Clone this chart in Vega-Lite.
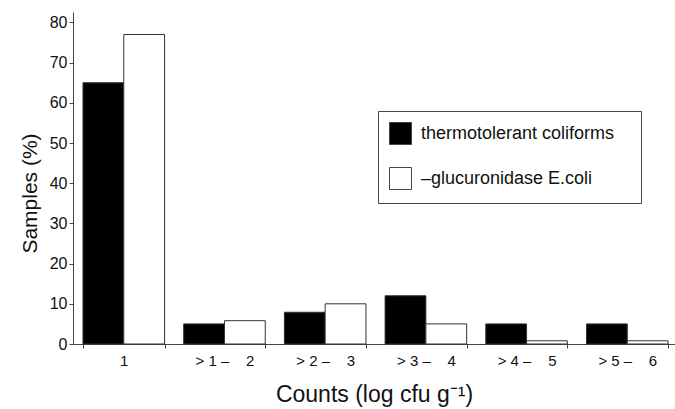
{
  "$schema": "https://vega.github.io/schema/vega-lite/v6.json",
  "width": 602,
  "height": 332,
  "autosize": {"type": "none"},
  "padding": {"left": 73, "top": 12, "right": 0, "bottom": 65},
  "background": "white",
  "config": {
    "font": "Liberation Sans",
    "view": {"stroke": null},
    "axis": {"domainColor": "#444", "tickColor": "#444", "labelColor": "#111", "titleColor": "#111", "labelFont": "Liberation Sans", "titleFont": "Liberation Sans", "titleFontWeight": "normal", "grid": false}
  },
  "data": {
    "values": [
      {"count": "1", "series": "thermo", "samples": 65},
      {"count": "1", "series": "gluc", "samples": 77},
      {"count": "> 1 –\u00a0\u00a0\u00a0\u00a02", "series": "thermo", "samples": 5},
      {"count": "> 1 –\u00a0\u00a0\u00a0\u00a02", "series": "gluc", "samples": 5.8},
      {"count": "> 2 –\u00a0\u00a0\u00a0\u00a03", "series": "thermo", "samples": 7.9},
      {"count": "> 2 –\u00a0\u00a0\u00a0\u00a03", "series": "gluc", "samples": 10},
      {"count": "> 3 –\u00a0\u00a0\u00a0\u00a04", "series": "thermo", "samples": 12},
      {"count": "> 3 –\u00a0\u00a0\u00a0\u00a04", "series": "gluc", "samples": 5},
      {"count": "> 4 –\u00a0\u00a0\u00a0\u00a05", "series": "thermo", "samples": 5},
      {"count": "> 4 –\u00a0\u00a0\u00a0\u00a05", "series": "gluc", "samples": 0.8},
      {"count": "> 5 –\u00a0\u00a0\u00a0\u00a06", "series": "thermo", "samples": 5},
      {"count": "> 5 –\u00a0\u00a0\u00a0\u00a06", "series": "gluc", "samples": 0.8}
    ]
  },
  "mark": {"type": "bar", "stroke": "#333", "strokeWidth": 1},
  "encoding": {
    "x": {
      "field": "count",
      "type": "nominal",
      "sort": null,
      "scale": {"paddingInner": 0.19, "paddingOuter": 0.084, "align": 0.59},
      "axis": {
        "title": "Counts (log cfu g⁻¹)",
        "titleFontSize": 23,
        "titlePadding": 15,
        "labelFontSize": 15,
        "labelAngle": 0,
        "labelPadding": 5,
        "tickSize": 4,
        "tickBand": "extent"
      }
    },
    "xOffset": {"field": "series", "type": "nominal", "sort": ["thermo", "gluc"]},
    "y": {
      "field": "samples",
      "type": "quantitative",
      "scale": {"domain": [0, 82.6], "nice": false, "zero": true},
      "axis": {
        "title": "Samples (%)",
        "titleFontSize": 21,
        "titlePadding": 9,
        "titleY": 181,
        "labelFontSize": 16,
        "labelPadding": 2,
        "tickSize": 4,
        "values": [0, 10, 20, 30, 40, 50, 60, 70, 80]
      }
    },
    "fill": {
      "field": "series",
      "type": "nominal",
      "scale": {"domain": ["thermo", "gluc"], "range": ["black", "white"]},
      "legend": {
        "title": null,
        "orient": "none",
        "legendX": 305,
        "legendY": 99,
        "padding": 11,
        "strokeColor": "#444",
        "fillColor": "white",
        "symbolType": "square",
        "symbolSize": 484,
        "symbolStrokeColor": "#444",
        "symbolStrokeWidth": 1,
        "symbolOpacity": 1,
        "labelFontSize": 18,
        "labelColor": "#111",
        "labelFont": "Liberation Sans",
        "labelOffset": 9,
        "rowPadding": 18,
        "labelLimit": 400,
        "labelExpr": "datum.value == 'thermo' ? 'thermotolerant coliforms\u00a0\u00a0\u00a0\u200b' : '\u00a0\u00a0–glucuronidase E.coli'"
      }
    }
  }
}
